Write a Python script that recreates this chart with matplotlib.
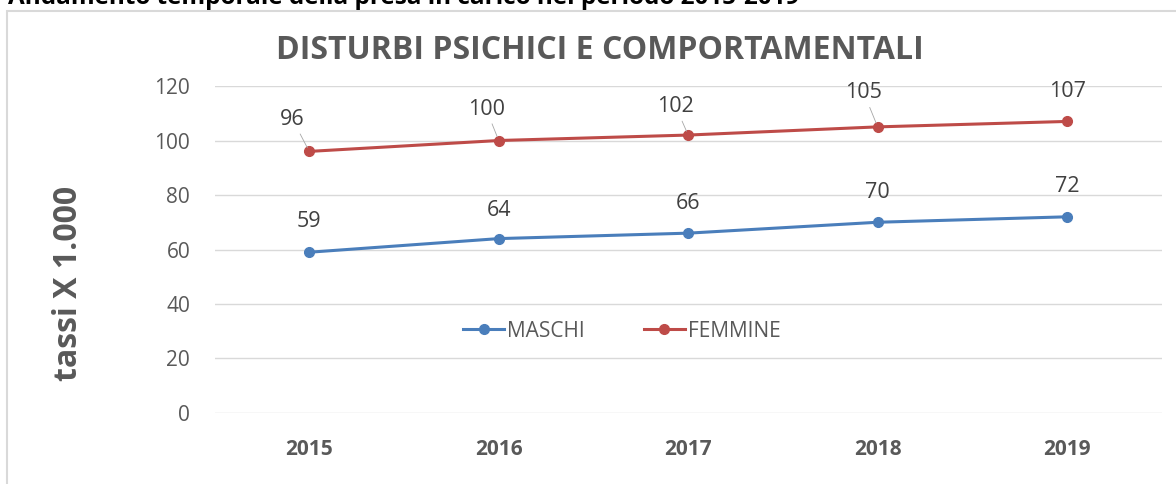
import matplotlib.pyplot as plt
from matplotlib.patches import Rectangle

plt.rcParams['font.family'] = ['Open Sans', 'DejaVu Sans']

years = ['2015', '2016', '2017', '2018', '2019']
maschi = [59, 64, 66, 70, 72]
femmine = [96, 100, 102, 105, 107]
yticks = [0, 20, 40, 60, 80, 100, 120]

blue = '#4A7EBB'
red = '#BE4B48'
grey = '#595959'

fig = plt.figure(figsize=(11.76, 4.84), dpi=100)
ax = fig.add_axes([0.1824, 0.1467, 0.8056, 0.6756])

x = list(range(len(years)))
ax.plot(x, maschi, color=blue, lw=2.2, marker='o', ms=7, label='MASCHI')
ax.plot(x, femmine, color=red, lw=2.2, marker='o', ms=7, label='FEMMINE')

ax.set_xlim(-0.5, len(years) - 0.5)
ax.set_ylim(0, 120)
ax.set_yticks(yticks)
ax.set_xticks(x)
ax.set_xticklabels(years, fontweight='bold')
ax.grid(axis='y', color='#d9d9d9', lw=1)
ax.set_axisbelow(True)
for s in ax.spines.values():
    s.set_visible(False)
ax.tick_params(axis='both', length=0, labelsize=15, labelcolor=grey)
ax.tick_params(axis='y', pad=17.5)
ax.tick_params(axis='x', pad=19)

# data labels (offsets in points), red ones with small leader lines
blue_off = [(0, 22), (0, 20), (0, 21), (0, 21.5), (0, 21.5)]
red_off = [(-12, 23), (-9, 22.5), (-9, 20.5), (-10, 24.5), (0, 21.5)]
for i, v in enumerate(maschi):
    ax.annotate(str(v), (i, v), xytext=blue_off[i], textcoords='offset points',
                ha='center', va='center', fontsize=15.5, color='#404040')
for i, v in enumerate(femmine):
    arrow = None
    if i < 4:
        arrow = dict(arrowstyle='-', color='#a6a6a6', lw=0.6, shrinkA=1, shrinkB=3)
    ax.annotate(str(v), (i, v), xytext=red_off[i], textcoords='offset points',
                ha='center', va='center', fontsize=15.5, color='#404040',
                arrowprops=arrow)

ax.legend(loc='center', bbox_to_anchor=(0.43, 0.25), ncol=2, frameon=False,
          fontsize=15, labelcolor=grey, handlelength=2.0, handletextpad=0.15,
          columnspacing=2.8, markerscale=1.0)

fig.text(0.510, 0.895, 'DISTURBI PSICHICI E COMPORTAMENTALI', ha='center',
         va='center', fontsize=23, fontweight='bold', color=grey)
fig.text(0.058, 0.415, 'tassi X 1.000', rotation=90, ha='center', va='center',
         fontsize=23, fontweight='bold', color=grey)

# caption cut at the top of the picture
fig.text(8 / 1176, 1 - 4 / 484, 'Andamento temporale della presa in carico nel periodo 2015-2019',
         ha='left', va='baseline', fontsize=17.5, fontweight='bold', color='black')

fig.patches.append(Rectangle((7 / 1176, -0.1), 1.2, 1 - 11 / 484 + 0.1,
                             transform=fig.transFigure, fill=False,
                             edgecolor='#d9d9d9', lw=1.5))

fig.savefig('out.png', dpi=100)
